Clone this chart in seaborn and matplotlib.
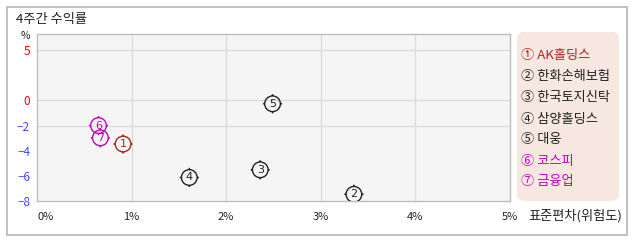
import numpy as np
import pandas as pd
import matplotlib
matplotlib.use("Agg")
import matplotlib.pyplot as plt
import seaborn as sns
from matplotlib.path import Path
from matplotlib.patches import FancyBboxPatch, Rectangle

# ---- data ----
names = ["AK홀딩스", "한화손해보험", "한국토지신탁", "삼양홀딩스", "대웅", "코스피", "금융업"]
numbers = ["1", "2", "3", "4", "5", "6", "7"]
circled = ["①", "②", "③", "④", "⑤", "⑥", "⑦"]
risk = [0.91, 3.35, 2.36, 1.61, 2.49, 0.65, 0.67]          # 표준편차 (%)
ret4w = [-3.47, -7.47, -5.52, -6.13, -0.27, -2.0, -2.98]   # 4주간 수익률 (%)
colors = ["#b22222", "#222222", "#222222", "#222222", "#222222", "#c000c0", "#c000c0"]
x_ticks = [0, 1, 2, 3, 4, 5]
x_labels = ["0%", "1%", "2%", "3%", "4%", "5%"]
y_ticks = [5, 0, -2, -4, -6, -8]
y_labels = ["5", "0", "−2", "−4", "−6", "−8"]
y_grid = [5, 0, -2]

sns.set_theme(style="white")
plt.rcParams["font.family"] = ["Noto Sans CJK KR", "DejaVu Sans"]
plt.rcParams["axes.unicode_minus"] = False

W, H = 638, 242
fig = plt.figure(figsize=(W / 100, H / 100), dpi=100)
fig.patch.set_facecolor("white")

# outer frame
fig.patches.append(Rectangle((7 / W, 1 - 235 / H), 620 / W, 228 / H, transform=fig.transFigure,
                             fill=False, edgecolor="#bbbbbb", linewidth=1.3))

L, R, T, B = 37, 510, 34, 201
ax = fig.add_axes([L / W, 1 - B / H, (R - L) / W, (B - T) / H])
ax.set_facecolor("#f5f5f5")

def fwd(y):
    y = np.asarray(y, dtype=float)
    return np.where(y >= 0, y, 1.25 * y)

def inv(t):
    t = np.asarray(t, dtype=float)
    return np.where(t >= 0, t, t / 1.25)

ax.set_yscale("function", functions=(fwd, inv))

# custom marker: circle with four little ticks outside
circ = Path.circle((0, 0), 1.0)
verts = [tuple(v) for v in circ.vertices]
codes = list(circ.codes)
for (a, b) in [((0, 1), (0, 1.22)), ((0, -1), (0, -1.22)), ((1, 0), (1.22, 0)), ((-1, 0), (-1.22, 0))]:
    verts += [a, b]
    codes += [Path.MOVETO, Path.LINETO]
marker = Path(verts, codes)

df = pd.DataFrame({"name": names, "risk": risk, "ret": ret4w})
sns.scatterplot(data=df, x="risk", y="ret", hue="name", palette=dict(zip(names, colors)),
                marker=marker, s=190, linewidth=1.0, legend=False, ax=ax, zorder=3)
pts = ax.collections[-1]
fc = pts.get_facecolors()
pts.set_edgecolors(fc)
pts.set_facecolors("none")

for xv, yv, n, c in zip(risk, ret4w, numbers, colors):
    ax.text(xv, yv, n, color=c, fontsize=8, ha="center", va="center", zorder=4,
            family=["DejaVu Sans"])

ax.set_xlim(0, 5)
ax.set_ylim(-8, 6.6)
for gx in x_ticks[1:-1]:
    ax.axvline(gx, color="#dcdcdc", linewidth=1.0, zorder=1)
for gy in y_grid:
    ax.axhline(gy, color="#dcdcdc", linewidth=1.0, zorder=1)

ax.set_xticks(x_ticks)
ax.set_xticklabels(x_labels, fontsize=8, color="#222222")
ax.set_yticks(y_ticks)
ax.set_yticklabels(y_labels, fontsize=8.5)
for lab, v in zip(ax.get_yticklabels(), y_ticks):
    lab.set_color("#ff0000" if v >= 0 else "#4444ff")
ax.get_xticklabels()[0].set_horizontalalignment("left")
ax.tick_params(axis="both", length=0)
ax.tick_params(axis="x", pad=8)
ax.tick_params(axis="y", pad=5)
ax.minorticks_off()
ax.set_xlabel("")
ax.set_ylabel("")
for s in ax.spines.values():
    s.set_color("#bdbdbd")
    s.set_linewidth(1.0)

# texts
fig.text(16 / W, 1 - 19 / H, "4주간 수익률", fontsize=9.5, color="#222222", va="center", ha="left")
fig.text(25 / W, 1 - 36 / H, "%", fontsize=7.5, color="#222222", va="center", ha="center")
fig.text(528 / W, 1 - 216 / H, "표준편차(위험도)", fontsize=9.5, color="#222222", va="center", ha="left")

# legend box
fig.patches.append(FancyBboxPatch((517 / W, 1 - 201 / H), 102 / W, 169 / H,
                                  boxstyle="round,pad=0,rounding_size=0.012",
                                  transform=fig.transFigure, facecolor="#f6e8e1",
                                  edgecolor="none", mutation_aspect=W / H))
leg_y = [55, 76.5, 98, 119, 140, 161, 182]
for yy, cn, nm, c in zip(leg_y, circled, names, colors):
    fig.text(521 / W, 1 - yy / H, cn + " " + nm, fontsize=9.5, color=c, va="center", ha="left")

fig.savefig("out.png", dpi=100)
